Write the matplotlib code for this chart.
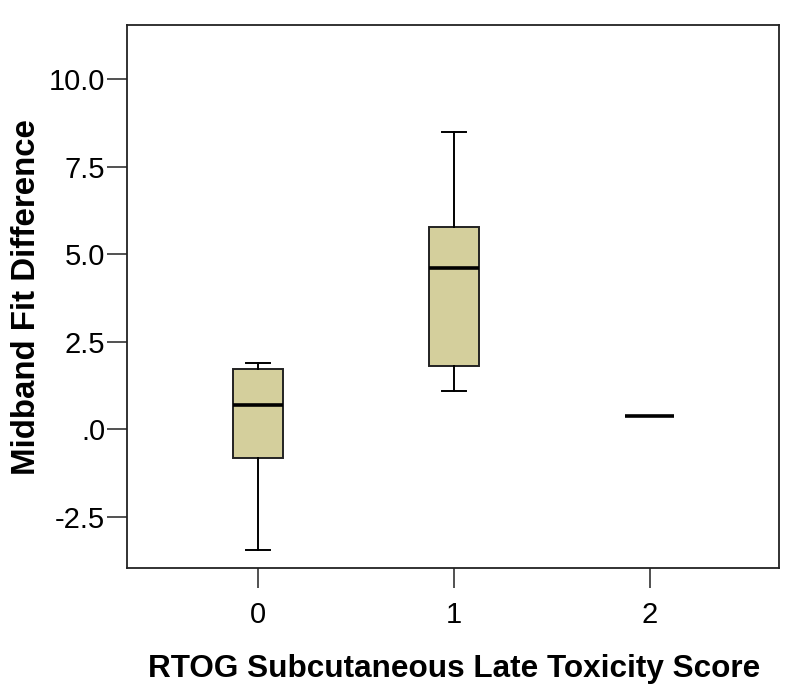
import matplotlib
matplotlib.use("Agg")
import matplotlib.pyplot as plt

plt.rcParams['font.family'] = ['Liberation Sans', 'DejaVu Sans']

categories = ["0", "1", "2"]
whislo = [-3.44, 1.09, 0.38]
q1 = [-0.82, 1.81, 0.38]
med = [0.69, 4.59, 0.38]
q3 = [1.71, 5.78, 0.38]
whishi = [1.88, 8.48, 0.38]
yticks = [-2.5, 0.0, 2.5, 5.0, 7.5, 10.0]
ytick_labels = ["-2.5", ".0", "2.5", "5.0", "7.5", "10.0"]

W, H = 796, 698
fig = plt.figure(figsize=(W / 100, H / 100), dpi=100)
ax = fig.add_axes([0.160, 0.186, 0.819, 0.778])

stats = []
for i, c in enumerate(categories):
    stats.append(dict(label=c, whislo=whislo[i], q1=q1[i], med=med[i],
                      q3=q3[i], whishi=whishi[i], fliers=[]))

boxcolor = '#D4CF9C'
single = [i for i in range(len(categories)) if q1[i] == q3[i]]
multi = [i for i in range(len(categories)) if q1[i] != q3[i]]

ax.bxp([stats[i] for i in multi], positions=multi, widths=0.255,
       patch_artist=True, showfliers=False, capwidths=0.122,
       boxprops=dict(facecolor=boxcolor, edgecolor='#222222', linewidth=1.4),
       medianprops=dict(color='black', linewidth=2.6),
       whiskerprops=dict(color='black', linewidth=1.4),
       capprops=dict(color='black', linewidth=1.4))
for i in single:
    ax.hlines(med[i], i - 0.125, i + 0.125, color='black', linewidth=2.6)

ax.set_xlim(-0.667, 2.66)
ax.set_ylim(-3.97, 11.54)
ax.set_xticks(range(len(categories)))
ax.set_xticklabels(categories)
ax.set_yticks(yticks)
ax.set_yticklabels(ytick_labels)
ax.tick_params(axis='both', direction='out', length=14.5, width=1.1,
               labelsize=21, color='#222222')
ax.tick_params(axis='y', pad=1.5)
ax.tick_params(axis='x', pad=9)
for s in ax.spines.values():
    s.set_linewidth(1.3)
    s.set_color('#222222')

fig.text(454 / W, 1 - 677 / H, "RTOG Subcutaneous Late Toxicity Score",
         fontsize=22.7, fontweight='bold', ha='center', va='baseline')
fig.text(26.5 / W, 1 - 297.5 / H, "Midband Fit Difference",
         fontsize=23.8, fontweight='bold', ha='center', va='center',
         rotation=90)

fig.savefig("out.png", dpi=100)
